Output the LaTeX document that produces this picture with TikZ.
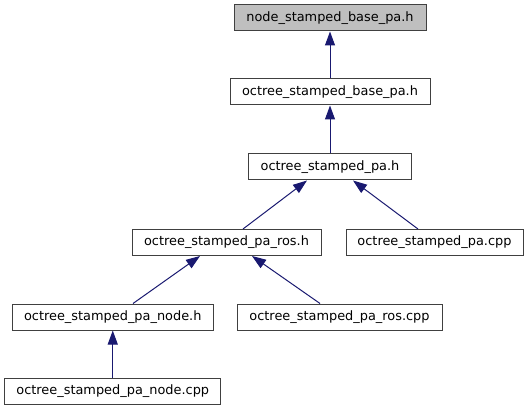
\documentclass[tikz,border=0pt]{standalone}
\usepackage{fontspec}
\setmainfont{DejaVu Sans}
\usetikzlibrary{arrows.meta}
\definecolor{edgeblue}{HTML}{191970}
\definecolor{boxgray}{HTML}{BFBFBF}
\definecolor{boxline}{HTML}{404040}
\tikzset{
  box/.style={draw=boxline, line width=1pt, rectangle, minimum height=26pt, inner sep=0pt,
    font=\fontsize{12.9}{15}\selectfont, fill=white},
  rootbox/.style={box, fill=boxgray},
  edge/.style={draw=edgeblue, line width=1pt, -{Triangle[length=14pt,width=10pt]}}
}
\begin{document}
\begin{tikzpicture}[x=1pt,y=-1pt]
\useasboundingbox (0,0) rectangle (529,411);
\node[rootbox, minimum width=192pt] (b1) at (330,18) {node\_stamped\_base\_pa.h};
\node[box, minimum width=200pt] (b2) at (330,92) {octree\_stamped\_base\_pa.h};
\node[box, minimum width=163pt] (b3) at (330,167) {octree\_stamped\_pa.h};
\node[box, minimum width=189pt] (b4) at (226.5,242.5) {octree\_stamped\_pa\_ros.h};
\node[box, minimum width=177pt] (b5) at (434.5,242.5) {octree\_stamped\_pa.cpp};
\node[box, minimum width=201pt] (b6) at (112.75,317) {octree\_stamped\_pa\_node.h};
\node[box, minimum width=205pt] (b7) at (339.5,317) {octree\_stamped\_pa\_ros.cpp};
\node[box, minimum width=216pt] (b8) at (112.75,391.5) {octree\_stamped\_pa\_node.cpp};
\draw[edge] (b2.north) -- (b1.south);
\draw[edge] (b3.north) -- (b2.south);
\draw[edge] ([xshift=16.5pt]b4.north) -- ([xshift=-23pt]b3.south);
\draw[edge] ([xshift=-16.5pt]b5.north) -- ([xshift=23pt]b3.south);
\draw[edge] ([xshift=20.25pt]b6.north) -- ([xshift=-26.5pt]b4.south);
\draw[edge] ([xshift=-19.5pt]b7.north) -- ([xshift=25.5pt]b4.south);
\draw[edge] (b8.north) -- (b6.south);
\end{tikzpicture}
\end{document}
